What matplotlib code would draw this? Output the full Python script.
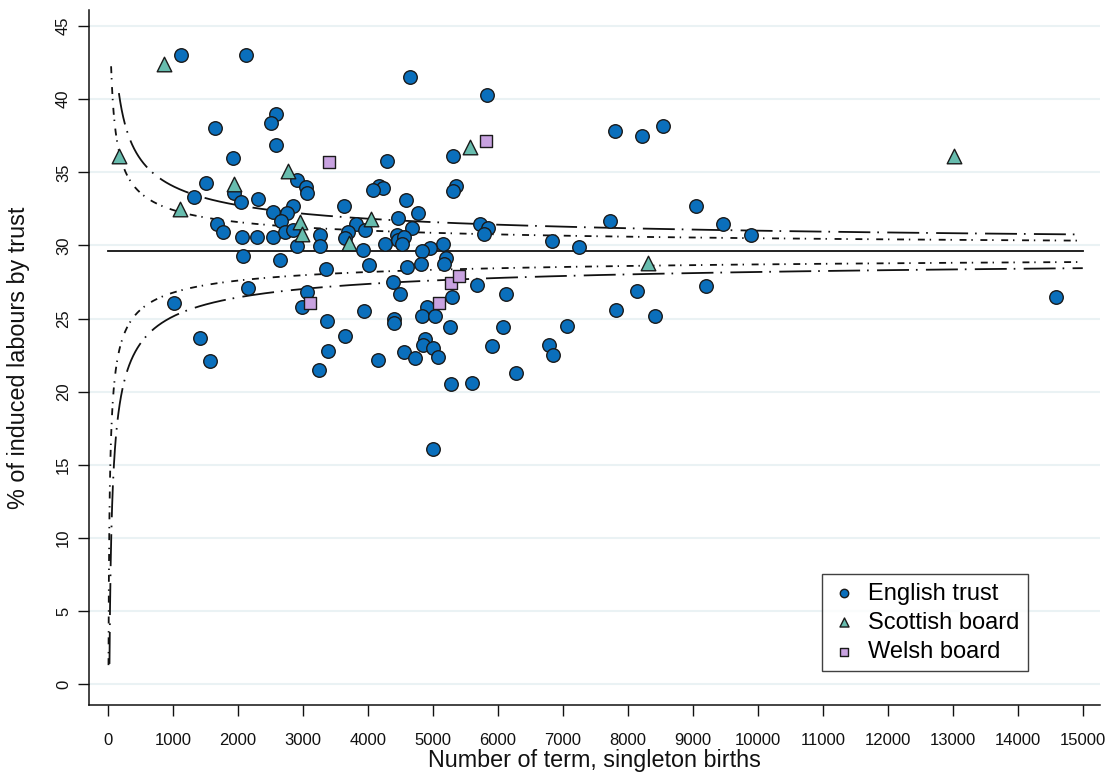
import numpy as np
import matplotlib
matplotlib.use('Agg')
import matplotlib.pyplot as plt

plt.rcParams['font.family'] = ['Liberation Sans', 'DejaVu Sans']
plt.rcParams['lines.scale_dashes'] = False

# ---------------- data ----------------
eng_n = [1124, 2123, 2588, 2512, 1651, 2588, 1928, 4289, 2906, 3049,
         3069, 1508, 1943, 2051, 2312, 1318, 3637, 4175, 4227, 4074,
         2854, 2547, 2753, 2665, 1687, 1779, 2071, 2292, 2538, 2727,
         2845, 3264, 3264, 2906, 3817, 3699, 3648, 3955, 3929, 4263,
         4458, 4442, 4467, 4647, 5840, 5312, 7796, 8215, 8544, 5349,
         5303, 4585, 4774, 4673, 4555, 4519, 5722, 5850, 5788, 5158,
         4954, 4826, 7730, 6839, 7247, 9051, 2086, 2645, 4021, 3361,
         2154, 1017, 3060, 2992, 4390, 4493, 3935, 3376, 4401, 4401,
         3653, 3382, 4155, 3253, 1425, 1570, 4555, 5200, 5174, 4816,
         4596, 5676, 6132, 5296, 8144, 7822, 8425, 4903, 4836, 5026,
         5261, 6075, 7058, 4872, 4842, 5005, 5077, 4719, 5911, 6786,
         6843, 6286, 5281, 5599, 5000, 9459, 9896, 9204, 14581]
eng_pct = [43.0, 43.0, 39.0, 38.4, 38.0, 36.9, 36.0, 35.8, 34.5, 34.0,
           33.6, 34.3, 33.6, 33.0, 33.2, 33.3, 32.7, 34.1, 33.96, 33.8,
           32.7, 32.3, 32.2, 31.7, 31.5, 30.9, 30.6, 30.6, 30.6, 30.9,
           31.05, 30.7, 29.97, 29.95, 31.5, 30.9, 30.5, 31.05, 29.7, 30.1,
           31.85, 30.7, 30.4, 41.5, 40.3, 36.1, 37.8, 37.5, 38.2, 34.05,
           33.7, 33.1, 32.2, 31.2, 30.6, 30.1, 31.5, 31.2, 30.8, 30.1,
           29.8, 29.6, 31.7, 30.3, 29.9, 32.7, 29.3, 29.0, 28.65, 28.4,
           27.06, 26.1, 26.8, 25.8, 27.5, 26.7, 25.5, 24.85, 25.0, 24.7,
           23.8, 22.8, 22.2, 21.5, 23.7, 22.1, 22.7, 29.15, 28.7, 28.7,
           28.5, 27.3, 26.7, 26.5, 26.9, 25.6, 25.15, 25.8, 25.2, 25.2,
           24.4, 24.4, 24.5, 23.6, 23.2, 22.96, 22.4, 22.3, 23.1, 23.2,
           22.5, 21.25, 20.5, 20.6, 16.1, 31.5, 30.7, 27.2, 26.5]

sco_n = [868, 166, 2768, 1939, 1114, 2957, 2983, 4048, 3714, 5568, 8318, 13014]
sco_pct = [42.4, 36.1, 35.1, 34.2, 32.5, 31.6, 30.8, 31.8, 30.2, 36.7, 28.8, 36.1]

wal_n = [3407, 5814, 3106, 5092, 5276, 5404]
wal_pct = [35.7, 37.15, 26.1, 26.1, 27.4, 27.9]

mean_pct = 29.6          # overall induction rate
z95, z998 = 1.96, 3.09   # control limit multipliers
n_max = 15000
upper95_start, upper998_start = 50, 170
lower95_start, lower998_start = 10, 25

x_ticks = list(range(0, 15001, 1000))
y_ticks = list(range(0, 46, 5))

# ---------------- figure ----------------
fig = plt.figure(figsize=(11.09, 7.73), dpi=100)
ax = fig.add_axes([89 / 1109, 68 / 773, 1011 / 1109, 695 / 773])

p = mean_pct / 100.0


def limit(n, z, sign):
    n = np.asarray(n, dtype=float)
    return 100.0 * (p + sign * z * np.sqrt(p * (1 - p) / n))


def grid(start):
    return np.geomspace(start, n_max, 600)


black = '#111111'
long_dd = (0, (23, 5, 1.2, 6))
short_dd = (0, (5, 3.5, 1.0, 5.5))

ax.plot([0, n_max], [mean_pct, mean_pct], color=black, lw=1.3, zorder=2)
g = grid(upper998_start)
ax.plot(g, limit(g, z998, +1), color=black, lw=1.3, linestyle=long_dd, zorder=2)
g = grid(lower998_start)
ax.plot(g, limit(g, z998, -1), color=black, lw=1.3, linestyle=long_dd, zorder=2)
g = grid(upper95_start)
ax.plot(g, limit(g, z95, +1), color=black, lw=1.3, linestyle=short_dd, zorder=2)
g = grid(lower95_start)
ax.plot(g, limit(g, z95, -1), color=black, lw=1.3, linestyle=short_dd, zorder=2)

edge = '#1a1a1a'
ax.scatter(eng_n, eng_pct, s=95, marker='o', facecolor='#0a6fbc', edgecolor=edge,
           linewidths=1.0, zorder=3, label='English trust')
ax.scatter(sco_n, sco_pct, s=110, marker='^', facecolor='#67bcae', edgecolor=edge,
           linewidths=1.0, zorder=3, label='Scottish board')
ax.scatter(wal_n, wal_pct, s=85, marker='s', facecolor='#c8a2e0', edgecolor=edge,
           linewidths=1.0, zorder=3, label='Welsh board')

ax.set_xlim(-290, 15265)
ax.set_ylim(-1.42, 46.1)
ax.set_xticks(x_ticks)
ax.set_yticks(y_ticks)
ax.set_xticklabels([str(t) for t in x_ticks])
ax.set_yticklabels([str(t) for t in y_ticks], rotation=90, va='center')

for yv in y_ticks:
    ax.axhline(yv, color='#eaf2f4', lw=1.5, zorder=0)

for s in ['top', 'right']:
    ax.spines[s].set_visible(False)
for s in ['left', 'bottom']:
    ax.spines[s].set_linewidth(1.1)
    ax.spines[s].set_color(black)

ax.tick_params(axis='both', direction='out', length=8, width=1.0, color=black,
               labelsize=12, labelcolor='#111111')
ax.tick_params(axis='x', pad=12)
ax.tick_params(axis='y', pad=5)

ax.set_xlabel('Number of term, singleton births', fontsize=16.8, color='#111111')
ax.set_ylabel('% of induced labours by trust', fontsize=16.8, color='#111111')
ax.xaxis.set_label_coords(0.4995, -0.064)
ax.yaxis.set_label_coords(-0.058, 0.5)

leg = ax.legend(loc='lower right', bbox_to_anchor=(0.9288, 0.0489), borderaxespad=0,
                fontsize=17, frameon=True, fancybox=False, markerscale=0.62,
                handlelength=1.1, handletextpad=0.5, borderpad=0.35,
                labelspacing=0.3, edgecolor=black)
leg.get_frame().set_linewidth(1.0)

fig.savefig('out.png', dpi=100)
